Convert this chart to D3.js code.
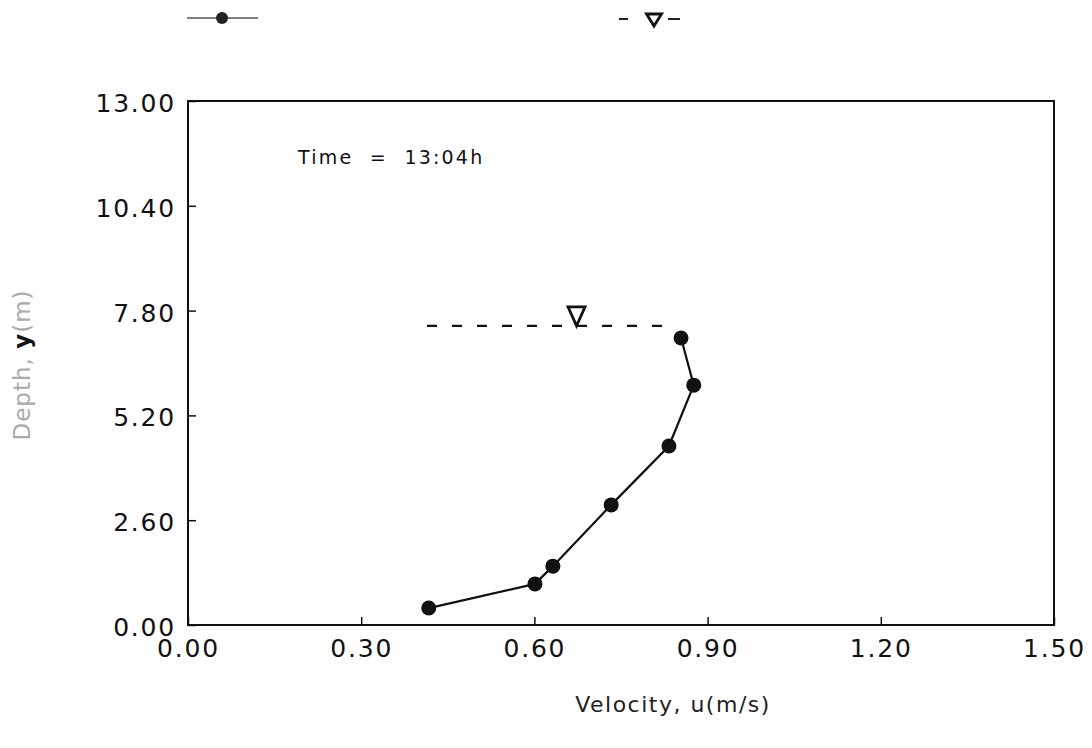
<!DOCTYPE html>
<html>
<head>
<meta charset="utf-8">
<script src="https://cdn.jsdelivr.net/npm/d3@7"></script>
<style>
  body { margin: 0; background: #fff; }
  text { font-family: "DejaVu Sans", sans-serif; }
</style>
</head>
<body>
<svg></svg>
<script>
        const svgWidth = 1092;
        const svgHeight = 748;

        // measured profile, time 13:04h
        const velocity = [0.417, 0.601, 0.632, 0.733, 0.833, 0.876, 0.854];
        const depth = [0.42, 1.02, 1.46, 2.98, 4.44, 5.95, 7.12];

        // water surface
        const surfaceDepth = 7.42;
        const surfaceFrom = 0.414;
        const surfaceTo = 0.835;
        const surfaceMark = 0.673;

        const xTicks = [0, 0.3, 0.6, 0.9, 1.2, 1.5];
        const yTicks = [0, 2.6, 5.2, 7.8, 10.4, 13];

        const margin = { top: 101, right: 38, bottom: 123, left: 188 };
        const width = svgWidth - margin.left - margin.right;
        const height = svgHeight - margin.top - margin.bottom;

        const svg = d3.select("svg")
            .attr("width", svgWidth)
            .attr("height", svgHeight);

        const x = d3.scaleLinear().domain([0, 1.5]).range([0, width]);
        const y = d3.scaleLinear().domain([0, 13]).range([height, 0]);

        const g = svg.append("g")
            .attr("transform", `translate(${margin.left},${margin.top})`);

        // frame
        g.append("rect")
            .attr("width", width)
            .attr("height", height)
            .attr("fill", "none")
            .attr("stroke", "#111")
            .attr("stroke-width", 2);

        // inward ticks
        const xAxis = g.append("g")
            .attr("transform", `translate(0,${height})`)
            .call(d3.axisBottom(x).tickValues(xTicks).tickSizeInner(-8).tickSizeOuter(0)
                .tickPadding(14).tickFormat(d3.format(".2f")));
        const yAxis = g.append("g")
            .call(d3.axisLeft(y).tickValues(yTicks).tickSizeInner(-8).tickSizeOuter(0)
                .tickPadding(12).tickFormat(d3.format(".2f")));

        [xAxis, yAxis].forEach(a => {
            a.select(".domain").remove();
            a.selectAll("line").attr("stroke", "#111").attr("stroke-width", 1.5);
            a.selectAll("text")
                .attr("font-size", 25)
                .attr("letter-spacing", 1.8)
                .attr("fill", "#111");
        });
        xAxis.selectAll("text").attr("dy", "0.71em");
        yAxis.selectAll("text").attr("dy", "0.42em");

        // profile line and points
        const pts = velocity.map((v, i) => [v, depth[i]]);
        const line = d3.line().x(d => x(d[0])).y(d => y(d[1]));

        g.append("path")
            .datum(pts)
            .attr("d", line)
            .attr("fill", "none")
            .attr("stroke", "#111")
            .attr("stroke-width", 2.2);

        g.selectAll("circle.pt")
            .data(pts)
            .enter().append("circle")
            .attr("class", "pt")
            .attr("cx", d => x(d[0]))
            .attr("cy", d => y(d[1]))
            .attr("r", 7.5)
            .attr("fill", "#111");

        // water surface dashed line with marker
        g.append("line")
            .attr("x1", x(surfaceFrom))
            .attr("x2", x(surfaceTo))
            .attr("y1", y(surfaceDepth))
            .attr("y2", y(surfaceDepth))
            .attr("stroke", "#111")
            .attr("stroke-width", 2.2)
            .attr("stroke-dasharray", "10,15");

        function triangle(sel, cx, by, w, h) {
            sel.append("path")
                .attr("d", `M${cx - w / 2},${by - h}L${cx + w / 2},${by - h}L${cx},${by}Z`)
                .attr("fill", "none")
                .attr("stroke", "#111")
                .attr("stroke-width", 2.8);
        }
        triangle(g, x(surfaceMark), y(surfaceDepth), 17, 19);

        g.append("text")
            .attr("x", 110)
            .attr("y", 63)
            .attr("font-size", 19)
            .attr("letter-spacing", 2.2)
            .attr("fill", "#111")
            .attr("xml:space", "preserve")
            .text("Time  =  13:04h");

        // legend
        svg.append("line")
            .attr("x1", 187).attr("x2", 258).attr("y1", 18).attr("y2", 18)
            .attr("stroke", "#555").attr("stroke-width", 1.5);
        svg.append("circle")
            .attr("cx", 222).attr("cy", 18).attr("r", 6).attr("fill", "#222");

        svg.append("line")
            .attr("x1", 619).attr("x2", 680).attr("y1", 19).attr("y2", 19)
            .attr("stroke", "#222").attr("stroke-width", 1.8)
            .attr("stroke-dasharray", "9,40,12");
        triangle(svg, 654, 26, 15, 12);

        // axis titles
        svg.append("text")
            .attr("x", 673)
            .attr("y", 712)
            .attr("text-anchor", "middle")
            .attr("font-size", 22)
            .attr("letter-spacing", 1.5)
            .attr("fill", "#222")
            .text("Velocity, u(m/s)");

        const yt = svg.append("text")
            .attr("transform", "translate(30,365) rotate(-90)")
            .attr("text-anchor", "middle")
            .attr("font-size", 23)
            .attr("letter-spacing", 1)
            .attr("fill", "#aaa");
        yt.append("tspan").text("Depth, ");
        yt.append("tspan").attr("font-weight", "bold").attr("fill", "#111").text("y");
        yt.append("tspan").text("(m)");
</script>
</body>
</html>
